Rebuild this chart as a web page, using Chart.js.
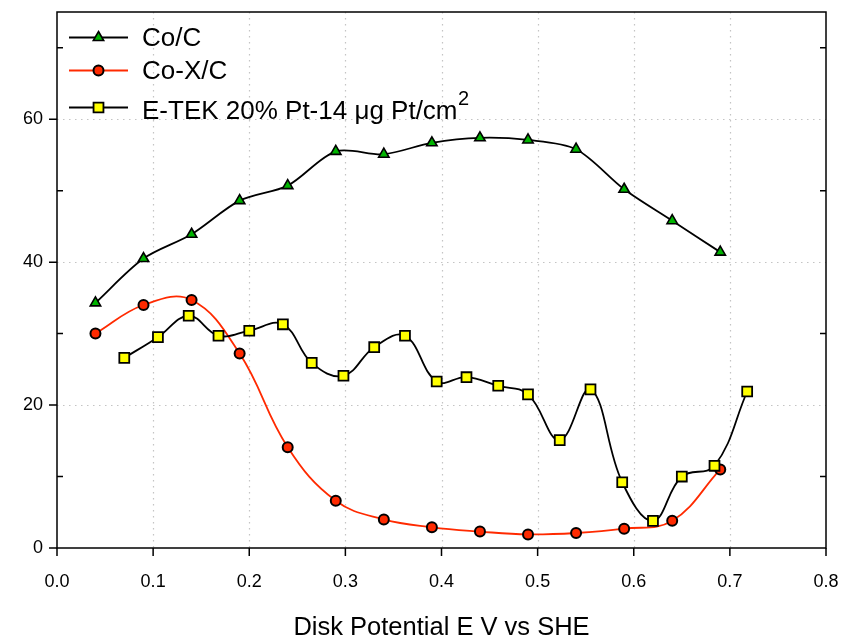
<!DOCTYPE html>
<html>
<head>
<meta charset="utf-8">
<script src="https://cdn.jsdelivr.net/npm/chart.js@4/dist/chart.umd.min.js"></script>
<style>
html,body{margin:0;padding:0;background:#fff;}
#wrap{width:842px;height:637px;}
</style>
</head>
<body>
<div id="wrap"><canvas id="c" width="842" height="637"></canvas></div>
<script>
// ---- data ----
const coC_E   = [0.04, 0.09, 0.14, 0.19, 0.24, 0.29, 0.34, 0.39, 0.44, 0.49, 0.54, 0.59, 0.64, 0.69];
const coC_I   = [34.3, 40.5, 43.9, 48.6, 50.7, 55.5, 55.1, 56.7, 57.4, 57.1, 55.8, 50.2, 45.8, 41.4];

const coX_E   = [0.04, 0.09, 0.14, 0.19, 0.24, 0.29, 0.34, 0.39, 0.44, 0.49, 0.54, 0.59, 0.64, 0.69];
const coX_I   = [30.0, 34.0, 34.7, 27.2, 14.1, 6.6, 4.0, 2.9, 2.3, 1.9, 2.1, 2.7, 3.8, 11.0];

const etek_E  = [0.07, 0.105, 0.137, 0.168, 0.20, 0.235, 0.265, 0.298, 0.33, 0.362, 0.395, 0.426, 0.459, 0.49, 0.523, 0.555, 0.588, 0.62, 0.65, 0.684, 0.718];
const etek_I  = [26.6, 29.5, 32.5, 29.7, 30.4, 31.3, 25.9, 24.1, 28.1, 29.7, 23.3, 23.9, 22.7, 21.5, 15.1, 22.2, 9.2, 3.8, 10.0, 11.5, 21.9];

const seriesNames = ['Co/C', 'Co-X/C', 'E-TEK 20% Pt-14 \u03BCg Pt/cm'];
const xTicks = [0.0, 0.1, 0.2, 0.3, 0.4, 0.5, 0.6, 0.7, 0.8];
const yTicks = [0, 20, 40, 60];
const yMinorTicks = [10, 30, 50, 70];
const xTitle = 'Disk Potential E V vs SHE';

const pts = (xs, ys) => xs.map((x, i) => ({x: x, y: ys[i]}));
const FONT = '"Liberation Sans", Arial, sans-serif';

const frame = {
  id: 'frame',
  beforeDatasetsDraw(chart) {
    const ctx = chart.ctx, a = chart.chartArea;
    const xs = chart.scales.x, ys = chart.scales.y;
    ctx.save();
    ctx.strokeStyle = '#c4c4c4';
    ctx.lineWidth = 1.2;
    ctx.setLineDash([1.5, 4.5]);
    xTicks.forEach(v => {
      if (v <= 0 || v >= 0.8) return;
      const px = Math.round(xs.getPixelForValue(v)) + 0.5;
      ctx.beginPath(); ctx.moveTo(px, a.top); ctx.lineTo(px, a.bottom); ctx.stroke();
    });
    yTicks.forEach(v => {
      if (v <= 0) return;
      const py = Math.round(ys.getPixelForValue(v)) + 0.5;
      ctx.beginPath(); ctx.moveTo(a.left, py); ctx.lineTo(a.right, py); ctx.stroke();
    });
    ctx.restore();
  },
  afterDatasetsDraw(chart) {
    const ctx = chart.ctx, a = chart.chartArea;
    const xs = chart.scales.x, ys = chart.scales.y;
    ctx.save();
    ctx.strokeStyle = '#000';
    ctx.lineWidth = 1.5;
    ctx.setLineDash([]);
    ctx.strokeRect(a.left, a.top, a.right - a.left, a.bottom - a.top);
    ctx.beginPath();
    yTicks.forEach(v => {
      const py = ys.getPixelForValue(v);
      ctx.moveTo(a.left - 8, py); ctx.lineTo(a.left, py);
    });
    yMinorTicks.forEach(v => {
      const py = ys.getPixelForValue(v);
      ctx.moveTo(a.left, py); ctx.lineTo(a.left + 6, py);
      ctx.moveTo(a.right - 6, py); ctx.lineTo(a.right, py);
    });
    xTicks.forEach(v => {
      const px = xs.getPixelForValue(v);
      ctx.moveTo(px, a.bottom); ctx.lineTo(px, a.bottom + 8);
    });
    ctx.stroke();
    ctx.restore();
  },
  afterDraw(chart) {
    const ctx = chart.ctx;
    const rows = [37.5, 70.5, 107.5];
    const textY = [38.5, 71.5, 111.5];
    ctx.save();
    chart.data.datasets.forEach((ds, i) => {
      const y = rows[ds.legendRow];
      ctx.strokeStyle = ds.borderColor;
      ctx.lineWidth = ds.borderWidth;
      ctx.setLineDash([]);
      ctx.beginPath(); ctx.moveTo(69, y); ctx.lineTo(128, y); ctx.stroke();
      ctx.fillStyle = ds.pointBackgroundColor;
      ctx.strokeStyle = ds.pointBorderColor;
      ctx.lineWidth = ds.pointBorderWidth;
      Chart.helpers.drawPoint(ctx, {pointStyle: ds.pointStyle, radius: ds.pointRadius, rotation: 0, borderWidth: ds.pointBorderWidth}, 98.5, y);
      ctx.fillStyle = '#000';
      ctx.font = '26px ' + FONT;
      ctx.textBaseline = 'middle';
      ctx.textAlign = 'left';
      const ty = textY[ds.legendRow];
      ctx.fillText(ds.label, 142, ty);
      if (ds.legendSup) {
        const w = ctx.measureText(ds.label).width;
        ctx.font = '20px ' + FONT;
        ctx.fillText(ds.legendSup, 142 + w + 0.5, ty - 12);
      }
    });
    ctx.restore();
  }
};

const noPad = s => { s.paddingTop = 0; s.paddingBottom = 0; s.paddingLeft = 0; s.paddingRight = 0; };

new Chart(document.getElementById('c'), {
  type: 'line',
  data: {
    datasets: [
      {
        label: seriesNames[2], legendRow: 2, legendSup: '2', order: 0,
        data: pts(etek_E, etek_I),
        borderColor: '#000', borderWidth: 1.8, tension: 0.4,
        pointStyle: 'rect', pointRadius: 7, pointBackgroundColor: '#ffff00',
        pointBorderColor: '#000', pointBorderWidth: 1.8
      },
      {
        label: seriesNames[1], legendRow: 1, order: 1,
        data: pts(coX_E, coX_I),
        borderColor: '#ff2a00', borderWidth: 1.8, tension: 0.4,
        pointStyle: 'circle', pointRadius: 5, pointBackgroundColor: '#ff2a00',
        pointBorderColor: '#000', pointBorderWidth: 2
      },
      {
        label: seriesNames[0], legendRow: 0, order: 2,
        data: pts(coC_E, coC_I),
        borderColor: '#000', borderWidth: 1.8, tension: 0.3,
        pointStyle: 'triangle', pointRadius: 6, pointBackgroundColor: '#00b400',
        pointBorderColor: '#000', pointBorderWidth: 1.6
      }
    ]
  },
  options: {
    responsive: false,
    animation: false,
    devicePixelRatio: 1,
    layout: {padding: {top: 12, right: 16, left: 0, bottom: 0}},
    plugins: {legend: {display: false}, tooltip: {enabled: false}},
    scales: {
      x: {
        type: 'linear', min: 0, max: 0.8,
        afterBuildTicks: s => { s.ticks = xTicks.map(v => ({value: v})); },
        afterFit: s => { s.height = 89; noPad(s); },
        grid: {display: false, drawTicks: false},
        border: {display: false},
        ticks: {
          padding: 23, color: '#000', font: {family: FONT, size: 18},
          maxRotation: 0, autoSkip: false,
          callback: v => Number(v).toFixed(1)
        },
        title: {display: true, text: xTitle, color: '#000', font: {family: FONT, size: 25.5}, padding: {top: 0, bottom: -6}}
      },
      y: {
        type: 'linear', min: 0, max: 75,
        afterBuildTicks: s => { s.ticks = yTicks.map(v => ({value: v})); },
        afterFit: s => { s.width = 57; noPad(s); },
        grid: {display: false, drawTicks: false},
        border: {display: false},
        ticks: {padding: 14, color: '#000', font: {family: FONT, size: 18}, callback: v => String(v)}
      }
    }
  },
  plugins: [frame]
});
</script>
</body>
</html>
